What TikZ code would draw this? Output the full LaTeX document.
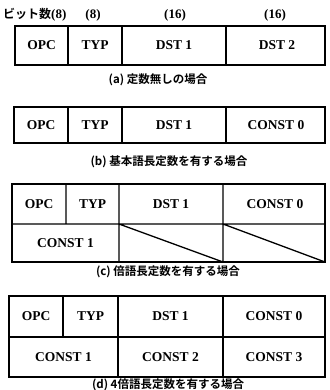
\documentclass[tikz,border=0pt]{standalone}
\usepackage{fontspec}
\setmainfont{Liberation Serif}
\newfontfamily\jpfont{Noto Sans CJK JP}[BoldFont={* Bold}]
\begin{document}
\begin{tikzpicture}[x=1pt,y=-1pt,
  outerline/.style={line width=2pt},
  innerline/.style={line width=1.3pt},
  lbl/.style={font=\fontsize{13.5}{15}\selectfont\bfseries, inner sep=0pt},
  captxt/.style={font=\jpfont\bfseries\fontsize{11.5}{13}\selectfont, inner sep=0pt},
  hdr/.style={font=\fontsize{13}{14}\selectfont\bfseries, inner sep=0pt}]
\useasboundingbox (0,0) rectangle (329,390);
% header
\node[hdr, anchor=west] (h0) at (3,15) {{\jpfont\bfseries\fontsize{12}{14}\selectfont ビット数}(8)};
\node[hdr] (h1) at (93,15) {(8)};
\node[hdr] (h2) at (175,15) {(16)};
\node[hdr] (h3) at (275,15) {(16)};
% (a)
\draw[innerline] (68,26) -- (68,65) (122,26) -- (122,65) (226,26) -- (226,65);
\draw[outerline] (15,26) rectangle (325,65);
\node[lbl] (a1) at (41.5,45.5) {OPC};
\node[lbl] (a2) at (95,45.5) {TYP};
\node[lbl] (a3) at (174,45.5) {DST 1};
\node[lbl] (a4) at (277,45.5) {DST 2};
\node[captxt] (ca) at (158,80) {(a)\ 定数無しの場合};
% (b)
\draw[innerline] (68,107) -- (68,143) (122,107) -- (122,143) (226,107) -- (226,143);
\draw[outerline] (14,107) rectangle (325,143);
\node[lbl] (b1) at (41,125) {OPC};
\node[lbl] (b2) at (95,125) {TYP};
\node[lbl] (b3) at (174,125) {DST 1};
\node[lbl] (b4) at (276,125) {CONST 0};
\node[captxt] (cb) at (169,162) {(b)\ 基本語長定数を有する場合};
% (c)
\draw[innerline] (12,224) -- (325,224)
  (66,184) -- (66,224) (119,184) -- (119,262) (223,184) -- (223,262)
  (119,224) -- (223,262) (223,224) -- (325,262);
\draw[outerline] (12,184) rectangle (325,262);
\node[lbl] (c1) at (39,204) {OPC};
\node[lbl] (c2) at (92.5,204) {TYP};
\node[lbl] (c3) at (171,204) {DST 1};
\node[lbl] (c4) at (275,204) {CONST 0};
\node[lbl] (c5) at (65.5,243) {CONST 1};
\node[captxt] (cc) at (168,272) {(c)\ 倍語長定数を有する場合};
% (d)
\draw[innerline] (9,337) -- (325,337)
  (63,296) -- (63,337) (118,296) -- (118,377) (223,296) -- (223,377);
\draw[outerline] (9,296) rectangle (325,377);
\node[lbl] (d1) at (36,316) {OPC};
\node[lbl] (d2) at (90.5,316) {TYP};
\node[lbl] (d3) at (170.5,316) {DST 1};
\node[lbl] (d4) at (274,316) {CONST 0};
\node[lbl] (d5) at (63.5,357) {CONST 1};
\node[lbl] (d6) at (170.5,357) {CONST 2};
\node[lbl] (d7) at (274,357) {CONST 3};
\node[captxt] (cd) at (168,384.5) {(d)\ 4倍語長定数を有する場合};
\end{tikzpicture}
\end{document}
